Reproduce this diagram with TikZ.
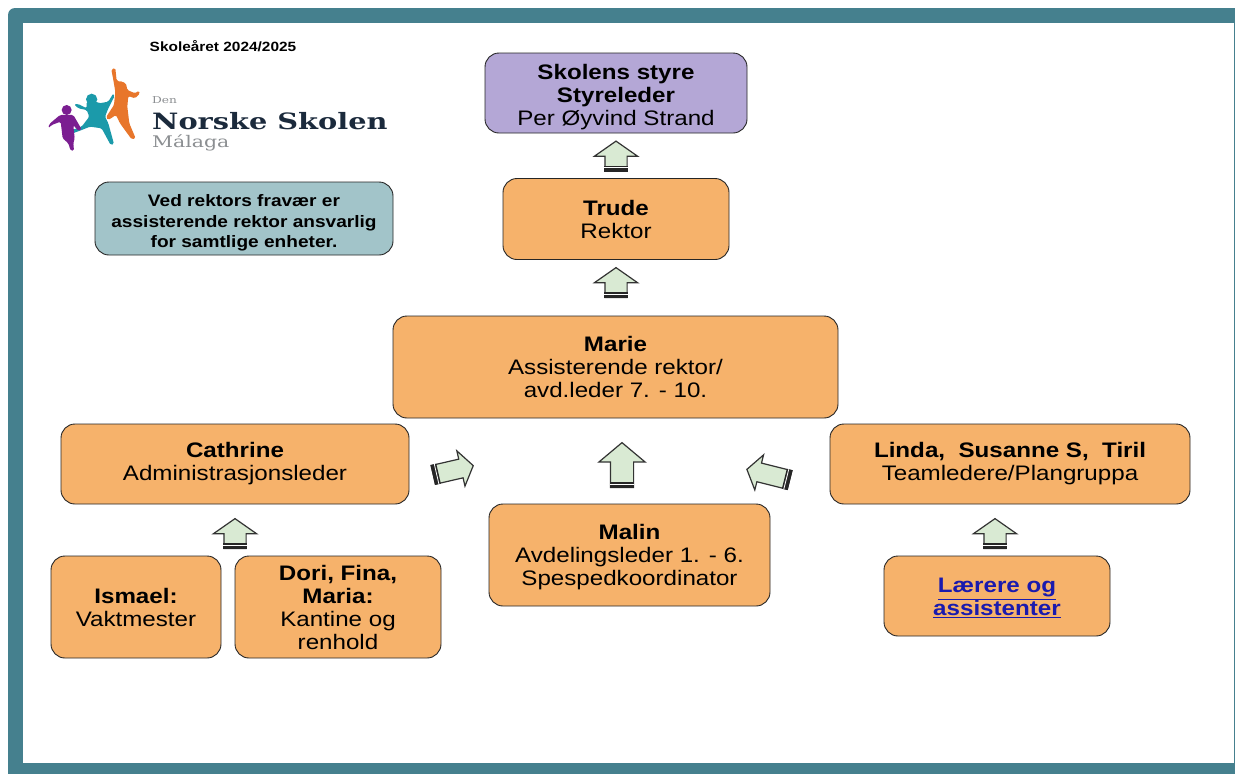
\documentclass[tikz,border=0pt]{standalone}
\usepackage{fontspec}
\setmainfont[FakeStretch=1.15]{Liberation Sans}
\usetikzlibrary{shapes.arrows,calc}
\newfontfamily\logofont[FakeStretch=1.28]{DejaVu Serif}
\definecolor{frame teal}{HTML}{45808E}
\definecolor{box orange}{HTML}{F6B26B}
\definecolor{box purple}{HTML}{B4A7D6}
\definecolor{box blue}{HTML}{A2C4C9}
\definecolor{arrow green}{HTML}{D9EAD3}
\definecolor{link blue}{HTML}{1A1AAE}
\definecolor{logo navy}{HTML}{1B2A3C}
\definecolor{logo gray}{HTML}{8C8F92}
\definecolor{logo orange}{HTML}{E8762B}
\definecolor{logo teal}{HTML}{1B9AAA}
\definecolor{logo purple}{HTML}{7B1E91}
\begin{document}
\begin{tikzpicture}[x=1pt,y=-1pt,
    org node/.style={draw=black!85,line width=0.9pt,rounded corners=14pt,fill=box orange,align=center,
        font=\fontsize{21}{23}\selectfont,inner sep=0pt},
    up arrow/.style={single arrow,draw=black!80,line width=1.2pt,fill=arrow green,inner xsep=0pt,inner ysep=10.5pt,
        single arrow head extend=10.5pt,single arrow tip angle=110,minimum height=30pt},
    side arrow/.style={up arrow,inner ysep=9pt,single arrow head extend=8.5pt}]
    \useasboundingbox (0,0) rectangle (1235,774);
    % frame
    \fill[white] (0,0) rectangle (1235,774);
    \fill[frame teal,rounded corners=7pt] (8,8) -- (1242,8) -- (1242,780) -- (8,780) -- cycle;
    \fill[white] (23,23) rectangle (1234,763);

    % logo
    \node (year) at (223,46) {\fontsize{13.4}{15}\selectfont\bfseries Skole\r{a}ret 2024/2025};
    \node[text=logo gray,anchor=west,inner sep=0pt] (den) at (152,100) {\logofont\fontsize{9.5}{11}\selectfont Den};
    \node[text=logo navy,anchor=west,inner sep=0pt] (norske) at (152,121) {\logofont\fontsize{22.5}{26}\selectfont\bfseries Norske Skolen};
    \node[text=logo gray,anchor=west,inner sep=0pt] (malaga) at (152,143) {\logofont\fontsize{16}{18}\selectfont M\'alaga};
    \begin{scope}[shift={(40,60)},x=0.3333pt,y=-0.3333pt,rounded corners=1.5pt]
        \fill[logo orange] (243,78) circle (14);
        \fill[logo orange] (214,28) -- (226,24) -- (230,62) -- (258,70) -- (262,90) -- (285,100) -- (297,92) -- (300,100)
            -- (285,115) -- (265,108) -- (262,140) -- (268,190) -- (287,235) -- (275,238) -- (240,190) -- (228,165)
            -- (205,180) -- (198,172) -- (222,135) -- (226,95) -- (220,60) -- cycle;
        \fill[logo teal] (155,118) circle (17);
        \fill[logo teal] (102,133) -- (115,132) -- (140,145) -- (140,125) -- (170,125) -- (178,130) -- (205,125) -- (220,100)
            -- (224,108) -- (205,145) -- (195,170) -- (205,190) -- (222,252) -- (212,255) -- (185,205) -- (150,200)
            -- (120,212) -- (98,220) -- (96,210) -- (125,200) -- (148,170) -- (140,150) -- (115,145) -- cycle;
        \fill[logo purple] (80,150) circle (15);
        \fill[logo purple] (25,205) -- (28,192) -- (60,165) -- (100,165) -- (125,208) -- (115,213) -- (100,195) -- (104,235)
            -- (100,250) -- (102,272) -- (92,272) -- (85,250) -- (68,235) -- (62,185) -- (35,195) -- cycle;
    \end{scope}

    % boxes
    \node[org node,fill=box purple,minimum width=262pt,minimum height=80pt] (styre) at (616,93)
        {\rule{0pt}{23pt}\textbf{Skolens styre}\\\textbf{Styreleder}\\Per \O yvind Strand};
    \node[org node,minimum width=226pt,minimum height=81pt] (trude) at (616,219) {\textbf{Trude}\\Rektor};
    \node[org node,minimum width=445pt,minimum height=102pt] (marie) at (615.5,367)
        {\textbf{Marie}\\Assisterende rektor/\\avd.leder 7. - 10.};
    \node[org node,minimum width=348pt,minimum height=80pt] (cathrine) at (235,464)
        {\textbf{Cathrine}\\Administrasjonsleder};
    \node[org node,minimum width=360pt,minimum height=80pt] (linda) at (1010,464)
        {\textbf{Linda,\ \ Susanne S,\ \ Tiril}\\Teamledere/Plangruppa};
    \node[org node,minimum width=281pt,minimum height=102pt] (malin) at (629.5,555)
        {\rule{0pt}{19pt}\textbf{Malin}\\Avdelingsleder 1. - 6.\\Spespedkoordinator};
    \node[org node,minimum width=170pt,minimum height=102pt] (ismael) at (136,607) {\textbf{Ismael:}\\Vaktmester};
    \node[org node,minimum width=206pt,minimum height=102pt] (dori) at (338,607)
        {\textbf{Dori, Fina,}\\\textbf{Maria:}\\Kantine og\\renhold};
    \node[org node,minimum width=226pt,minimum height=80pt] (laerere) at (997,596)
        {\rule{0pt}{19pt}\textcolor{link blue}{\textbf{\underline{L\ae rere og}}}\\\textcolor{link blue}{\textbf{\underline{assistenter}}}};
    \node[org node,fill=box blue,minimum width=298pt,minimum height=73pt,
        font=\fontsize{16.6}{20.5}\selectfont\bfseries] (note) at (244,218.5)
        {\rule{0pt}{21pt}Ved rektors frav\ae r er\\assisterende rektor ansvarlig\\for samtlige enheter.};

    % arrows
    \node[up arrow,rotate=90] (a1) at (616,160) {};
    \node[up arrow,rotate=90] (a2) at (616,286.5) {};
    \node[up arrow,rotate=90,minimum height=45pt,inner ysep=11pt,single arrow head extend=11.5pt,single arrow tip angle=100] (a3) at (622,470) {};
    \node[side arrow,rotate=13,minimum height=41pt] (a4) at (450,471) {};
    \node[side arrow,rotate=166,minimum height=44pt] (a5) at (771.5,475.5) {};
    \node[up arrow,rotate=90] (a6) at (235,537.5) {};
    \node[up arrow,rotate=90] (a7) at (995,537.5) {};

    \foreach \n in {a1,a2,a3,a4,a5,a6,a7} {
        \fill[black!85] (\n.before tail) -- (\n.after tail) -- ($(\n.after tail)!6pt!(\n.before head)$) -- ($(\n.before tail)!6pt!(\n.after head)$) -- cycle;
        \draw[white,line width=0.8pt] ($(\n.after tail)!4pt!(\n.before head)$) -- ($(\n.before tail)!4pt!(\n.after head)$);
    }
\end{tikzpicture}
\end{document}
